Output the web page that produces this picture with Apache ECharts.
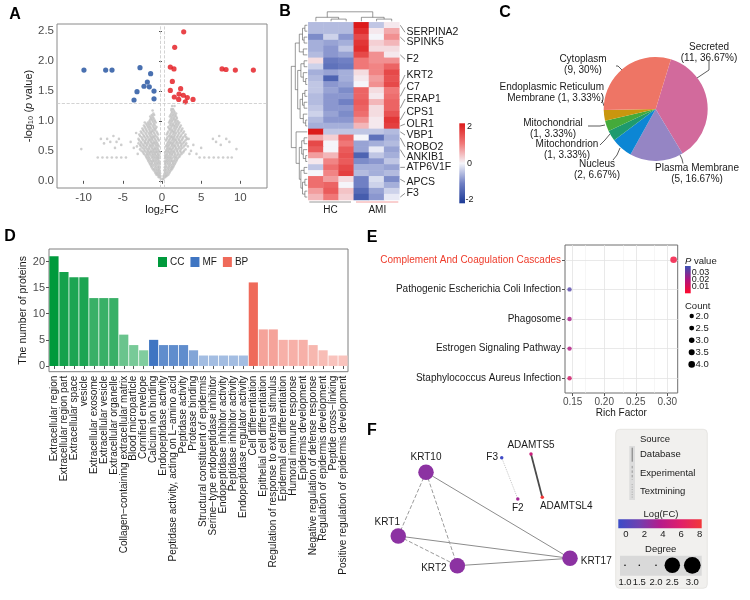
<!DOCTYPE html>
<html><head><meta charset="utf-8">
<script src="https://cdn.jsdelivr.net/npm/echarts@6/dist/echarts.min.js"></script>
<style>html,body{margin:0;padding:0;background:#fff}#c{width:750px;height:600px}</style>
</head><body><div id="c"></div>
<script>
// ================= DATA =================
// A: volcano
const volcanoUp = [[2.77,2.49],[1.62,2.23],[1.06,1.90],[1.53,1.87],[1.32,1.66],[1.06,1.51],[2.38,1.54],[1.57,1.40],[2.17,1.45],[2.72,1.43],[2.13,1.36],[2.98,1.32],[3.23,1.39],[3.96,1.36],[7.66,1.87],[8.17,1.86],[9.36,1.85],[11.66,1.85]];
const volcanoDown = [[-9.96,1.85],[-7.19,1.85],[-6.38,1.85],[-2.81,1.89],[-1.45,1.79],[-1.87,1.65],[-2.30,1.58],[-1.62,1.57],[-3.19,1.49],[-1.02,1.50],[-3.57,1.35],[-1.02,1.37]];
// non-significant proteins, listed per -log10(p) level: [y, [log2FC values]]
const volcanoNSRows = [
 [0.03,[-0.15,0.1,0.18]],
 [0.06,[-0.25,-0.4,0.25,0.4]],
 [0.08,[-0.2,-0.45,0.2,0.45,0.6]],
 [0.1,[-0.3,-0.5,-0.7,0.3,0.55,0.8]],
 [0.125,[-0.25,-0.45,-0.65,-0.8,0.35,0.6,0.9]],
 [0.15,[-0.35,-0.6,-0.9,0.4,0.7,1.0]],
 [0.175,[-0.3,-0.5,-0.75,-1.05,0.3,0.55,0.85,1.15]],
 [0.2,[-0.4,-0.7,-1.0,-1.2,0.45,0.8,1.1,1.3]],
 [0.225,[-0.35,-0.55,-0.85,-1.3,0.35,0.65,0.95,1.25,1.4]],
 [0.25,[-0.45,-0.8,-1.1,-1.4,0.5,0.9,1.2,1.5]],
 [0.275,[-0.3,-0.65,-0.95,-1.25,-1.5,0.4,0.75,1.05,1.35,1.6]],
 [0.3,[-0.4,-0.6,-0.9,-1.3,-1.6,0.45,0.7,1.0,1.4,1.7]],
 [0.325,[-0.35,-0.7,-1.0,-1.2,-1.4,-1.7,0.35,0.55,0.8,1.1,1.3,1.5,1.8]],
 [0.35,[-0.5,-0.8,-1.1,-1.5,-1.8,0.6,0.9,1.2,1.6,1.9]],
 [0.375,[-0.4,-0.6,-0.9,-1.2,-1.6,-1.9,0.4,0.7,1.0,1.3,1.7,2.0]],
 [0.39,[-8.2,-7.6,-7.0,-6.4,-5.8,-5.2,-4.6,4.8,5.4,6.0,6.6,7.2,7.8,8.4,8.9]],
 [0.4,[-0.45,-0.7,-1.0,-1.3,-1.7,-2.0,0.5,0.8,1.1,1.5,1.8,2.2]],
 [0.425,[-0.35,-0.6,-0.85,-1.15,-1.45,-1.8,-2.1,0.4,0.65,0.95,1.25,1.6,1.95,2.3]],
 [0.45,[-0.5,-0.9,-1.2,-1.6,-1.9,-2.3,-3.1,0.6,1.0,1.3,1.7,2.1,2.5,3.5,4.4]],
 [0.475,[-0.3,-0.6,-0.8,-1.0,-1.3,-1.5,-1.7,-2.0,-2.4,0.4,0.7,0.9,1.1,1.4,1.6,2.0,2.4,2.7]],
 [0.5,[-0.4,-0.7,-1.1,-1.4,-1.8,-2.2,-2.6,0.5,0.8,1.2,1.5,1.9,2.3,2.8,3.7]],
 [0.525,[-0.5,-0.8,-1.0,-1.2,-1.6,-1.9,-2.3,-2.8,0.6,0.9,1.1,1.3,1.7,2.0,2.4,3.0]],
 [0.53,[-10.3,9.5]],
 [0.55,[-0.6,-0.9,-1.3,-1.7,-2.1,-2.5,-3.6,-6.0,0.7,1.0,1.4,1.8,2.2,2.6,5.0]],
 [0.575,[-0.4,-0.7,-1.1,-1.4,-1.6,-2.0,-2.3,-2.7,-3.2,0.5,0.8,1.2,1.5,1.7,2.1,2.4,2.8,3.3]],
 [0.6,[-0.5,-0.8,-1.2,-1.5,-1.9,-2.4,-2.8,-5.2,0.6,0.9,1.3,1.6,2.0,2.5,3.0,4.0,7.5]],
 [0.625,[-0.6,-0.9,-1.1,-1.3,-1.7,-2.0,-2.2,-2.6,-3.0,-7.4,0.7,1.0,1.2,1.4,1.8,2.1,2.4,2.7,3.1]],
 [0.65,[-0.7,-1.0,-1.4,-1.8,-2.2,-2.7,-4.0,-6.6,-5.8,0.8,1.1,1.5,1.9,2.3,2.8,6.9,8.6]],
 [0.675,[-0.4,-0.8,-1.2,-1.5,-1.7,-2.1,-2.4,-2.9,0.5,0.9,1.3,1.6,1.8,2.2,2.5,3.0]],
 [0.7,[-0.5,-0.9,-1.3,-1.6,-2.0,-2.5,-3.0,-5.5,-7.0,-7.8,0.6,1.0,1.4,1.7,2.1,2.6,3.2,3.4,6.5,8.2]],
 [0.725,[-0.6,-1.0,-1.2,-1.4,-1.8,-2.2,-2.6,0.7,1.1,1.3,1.5,1.9,2.3,2.7,3.1]],
 [0.75,[-0.8,-1.1,-1.5,-1.9,-2.3,-2.8,-6.2,0.9,1.2,1.6,2.0,2.4,2.9,7.3]],
 [0.775,[-0.5,-0.9,-1.3,-1.6,-2.0,-2.4,-2.9,0.6,1.0,1.4,1.7,2.1,2.5,3.0]],
 [0.8,[-0.6,-1.0,-1.4,-1.7,-2.1,-2.6,-3.3,0.7,1.1,1.5,1.8,2.2,2.7]],
 [0.825,[-0.7,-1.1,-1.3,-1.5,-1.9,-2.3,-2.7,0.8,1.2,1.4,1.6,2.0,2.4,2.8]],
 [0.85,[-0.9,-1.2,-1.6,-2.0,-2.4,1.0,1.3,1.7,2.1,2.5]],
 [0.875,[-0.8,-1.0,-1.4,-1.7,-2.1,-2.5,0.9,1.1,1.5,1.8,2.2,2.6]],
 [0.9,[-0.7,-1.1,-1.5,-1.8,-2.2,0.8,1.2,1.6,1.9,2.3]],
 [0.925,[-0.9,-1.2,-1.6,-1.9,-2.3,1.0,1.3,1.5,1.7,2.0,2.4]],
 [0.95,[-1.0,-1.4,-1.7,-2.0,1.1,1.4,1.8,2.1]],
 [0.975,[-0.8,-1.1,-1.5,-1.8,-2.2,0.9,1.2,1.6,1.9,2.2]],
 [1.0,[-0.9,-1.2,-1.6,1.0,1.3,1.7,2.0]],
 [1.025,[-1.0,-1.3,-1.5,1.1,1.4,1.6,1.8]],
 [1.05,[-1.1,-1.4,1.2,1.5,1.9]],
 [1.075,[-1.2,-1.5,1.0,1.3,1.6,1.8]],
 [1.1,[-1.0,-1.3,1.1,1.4,1.7]],
 [1.125,[-1.1,1.2,1.5,1.8]],
 [1.15,[1.3,1.6]],
 [1.175,[-1.2,1.2,1.5]],
 [1.2,[1.2,1.4]],
 [1.25,[1.3,1.6]]
];
const volcanoXTicks = [-10,-5,0,5,10];
const volcanoYTicks = [0,0.5,1,1.5,2,2.5];
const pCutoff = 1.3, fcCutoff = 0.26;

// B: heatmap (rows = proteins, cols = samples), z-scores
const hmSamples = ['HC1','HC2','HC3','AMI1','AMI2','AMI3'];
const hmGroups = ['HC','AMI'];
const hmValues = [
 [-0.5,-0.5,-0.5, 2.0,-0.4, 0.1],
 [-0.5,-0.5,-0.5, 1.8, 0.1, 0.6],
 [-0.9,-0.3,-0.8, 1.5, 0.0, 0.8],
 [-0.6,-0.7,-0.6, 1.7, 0.3, 0.5],
 [-0.6,-0.8,-0.4, 1.8, 0.2, 0.2],
 [-0.5,-0.8,-0.7, 1.5, 0.8, 0.1],
 [ 0.2,-1.1,-1.0, 1.0, 0.8, 0.8],
 [-0.3,-1.2,-1.1, 1.0, 0.9, 1.2],
 [-0.6,-0.7,-0.6, 0.2, 0.9, 1.5],
 [-0.5,-1.4,-0.6, 0.1, 0.7, 1.4],
 [-0.4,-0.8,-0.7, 0.0, 0.8, 1.5],
 [-0.4,-0.7,-0.9, 1.2, 0.2, 1.0],
 [-0.5,-0.8,-0.8, 1.2, 0.1, 1.1],
 [-0.5,-0.8,-1.0, 1.3, 0.5, 1.2],
 [-0.4,-0.8,-0.8, 1.2, 0.2, 1.2],
 [-0.3,-0.7,-0.9, 1.1, 0.2, 1.4],
 [-0.5,-0.8,-0.8, 0.8, 0.1, 1.7],
 [-0.6,-0.6,-0.6, 0.5, 0.1, 1.6],
 [ 2.0,-0.4,-0.4,-0.4,-0.4,-0.5],
 [ 0.6, 0.3, 1.2, 0.0,-1.2,-0.6],
 [ 1.5, 0.0, 1.0,-0.7,-0.6,-0.5],
 [ 1.3, 0.0, 1.3,-0.7,-0.1,-0.7],
 [ 0.7, 0.5, 1.4,-1.4,-0.4,-0.6],
 [ 0.1, 0.9, 1.3,-0.9,-0.8,-0.4],
 [-0.4, 1.1, 1.5,-0.6,-0.6,-0.7],
 [ 0.0, 0.9, 1.6,-0.5,-0.6,-0.5],
 [ 1.1, 0.7, 0.2,-1.0,-0.2,-0.9],
 [ 1.1, 1.2, 0.0,-1.0,-0.3,-0.6],
 [ 0.7, 1.3, 0.4,-1.3,-0.7,-0.3],
 [ 0.5, 1.0, 0.3,-1.5,-0.8,-0.1]
];
const hmLabels = ['SERPINA2','SPINK5','F2','KRT2','C7','ERAP1','CPS1','OLR1','VBP1','ROBO2','ANKIB1','ATP6V1F','APCS','F3'];
const hmLabelRows = [0,2,5,10,12,14,16,17,18,19,21,24,26,29];
const hmScaleTicks = [2,0,-2];
// dendrograms: [height, left, right]; leaves = row / column index
const hmRowTree = [1.0,
  [0.75,
    [0.5,[0.3,[0.15,0,1],[0.2,2,3]],[0.25,4,5]],
    [0.6,[0.4,[0.2,6,7],[0.25,8,[0.1,9,10]]],[0.45,[0.3,[0.15,11,12],[0.2,13,14]],[0.25,15,[0.1,16,17]]]]],
  [0.7,18,[0.5,[0.35,[0.2,19,20],[0.25,21,[0.1,22,23]]],[0.4,[0.2,24,25],[0.3,[0.15,26,27],[0.15,28,29]]]]]];
const hmColTree = [0.95,[0.4,0,[0.22,1,2]],[0.4,3,[0.22,4,5]]];

// C: subcellular location
const locNames = ['Secreted','Plasma Membrane','Nucleus','Mitochondrion','Mitochondrial','Endoplasmic Reticulum Membrane','Cytoplasm'];
const locCounts = [11,5,2,1,1,1,9];

// D: GO terms
const goTerms = ['Extracellular region','Extracellular region part','Extracellular space','vesicle','Extracellular exosome','Extracellular vesicle','Extracellular organelle','Collagen\u2212containing extracellular matrix','Blood microparticle','Cornified envelope',
 'Calcium ion binding','Endopeptidase activity','Peptidase activity, acting on L\u2212amino acid','Peptidase activity','Protease binding','Structural constituent of epidermis','Serine\u2212type endopeptidase inhibitor','Endopeptidase inhibitor activity','Peptidase inhibitor activity','Endopeptidase regulator activity',
 'Cell differentiation','Epithelial cell differentiation','Regulation of response to external stimulus','Epidermal cell differentiation','Humoral immune response','Epidermis development','Negative regulation of defense response','Regulation of epidermis development','Peptide cross\u2212linking','Positive regulation of epidermis development'];
const goCounts = [21,18,17,17,13,13,13,6,4,3, 5,4,4,4,3,2,2,2,2,2, 16,7,7,5,5,5,4,3,2,2];
const goGroups = ['CC','CC','CC','CC','CC','CC','CC','CC','CC','CC','MF','MF','MF','MF','MF','MF','MF','MF','MF','MF','BP','BP','BP','BP','BP','BP','BP','BP','BP','BP'];
const goGroupNames = ['CC','MF','BP'];
const goYTicks = [0,5,10,15,20];

// E: KEGG enrichment
const keggTerms = ['Complement And Coagulation Cascades','Pathogenic Escherichia Coli Infection','Phagosome','Estrogen Signaling Pathway','Staphylococcus Aureus Infection'];
const keggRich = [0.31,0.145,0.145,0.145,0.145];
const keggP = [0.004,0.035,0.022,0.020,0.013];
const keggCount = [4,2,2,2,2];
const keggXTicks = [0.15,0.20,0.25,0.30];
const keggMinorX = [0.175,0.225,0.275];
const pLegendTicks = [0.03,0.02,0.01];
const countLegend = [2.0,2.5,3.0,3.5,4.0];

// F: PPI network
const netNodes = ['KRT10','KRT1','KRT2','KRT17','F3','F2','ADAMTS5','ADAMTSL4'];
const netLayoutX = [21.25,9.7,34.3,81.25,52.8,59.5,65.0,69.7];
const netLayoutY = [26.4,66.25,84.8,80.2,17.3,43.1,15.0,42.1];
const netLogFC = [2.8,2.8,2.8,2.8,0.2,3.5,5.0,8.0];
const netDegree = [3,3,3,3,1,1,1,1];
const netEdges = [['KRT10','KRT17','Database',1],['KRT1','KRT17','Database',1],['KRT2','KRT17','Database',1],
 ['KRT10','KRT1','Experimental',1],['KRT10','KRT2','Experimental',1],['KRT1','KRT2','Experimental',1],
 ['F3','F2','Textmining',1],['ADAMTS5','ADAMTSL4','Database',2]];
const sourceTypes = ['Database','Experimental','Textmining'];
const fcTicks = [0,2,4,6,8];
const degreeTicks = [1.0,1.5,2.0,2.5,3.0];

// ================= STYLE / LAYOUT =================
const FF = 'Liberation Sans, Arial, Helvetica, sans-serif';
const GA = {left:57, top:24, width:210, height:164};
const GB = {left:308.3, top:22.3, width:91, height:177.7};
const GD = {left:49, top:249, width:299, height:122.7};
const GE = {left:565, top:245, width:112.7, height:148};
const GF = {left:375, top:430, width:240, height:160};
const rowH = GB.height / hmValues.length, colW = GB.width / hmSamples.length;

function hex2rgb(h){return [parseInt(h.slice(1,3),16),parseInt(h.slice(3,5),16),parseInt(h.slice(5,7),16)];}
function mixWhite(h,a){const c=hex2rgb(h);return 'rgb('+c.map(v=>Math.round(255-(255-v)*a)).join(',')+')';}
function rampColor(stops, t){
  if(t<=stops[0][0]) return stops[0][1];
  for(let i=1;i<stops.length;i++){
    if(t<=stops[i][0]){const f=(t-stops[i-1][0])/(stops[i][0]-stops[i-1][0]);
      const a=hex2rgb(stops[i-1][1]), b=hex2rgb(stops[i][1]);
      return 'rgb('+a.map((v,k)=>Math.round(v+(b[k]-v)*f)).join(',')+')';}
  }
  return stops[stops.length-1][1];
}
const fcStops = [[0,'#3b4cc8'],[2,'#7040b0'],[4,'#b51c8c'],[6,'#e0206a'],[8,'#f2383a']];
const heatColors = ['#1c3a96','#7080c4','#f5f5fa','#f07777','#dc1a1a'];
const pColors = ['#ff0a2c','#b0147e','#3a50b4'];
const pMin = 0.001, pMax = 0.039;
const groupBase = {CC:'#009a3c', MF:'#3f75c2', BP:'#ef6a5a'};
const groupMinAlpha = {CC:0.5, MF:0.48, BP:0.4};
const countSize = c => 2.2 + 1.1*c;
const degreeSize = d => d >= 2.5 ? 15.5 : 3.5;

// ================= GRAPHIC (annotations / legends) =================
const G = [];
function T(text,x,y,o){G.push({type:'text',x:x,y:y,silent:true,z:10,style:Object.assign({text:text,fontSize:10,fontFamily:FF,fill:'#1a1a1a',align:'left',textAlign:'left',verticalAlign:'middle',textVerticalAlign:'middle'},o||{})});}
function L(pts,o){G.push({type:'polyline',silent:true,z:10,shape:{points:pts},style:Object.assign({stroke:'#333',lineWidth:0.8,fill:null},o||{})});}
function R(x,y,w,h,o,r){G.push({type:'rect',silent:true,z:9,shape:{x:x,y:y,width:w,height:h,r:r||0},style:o});}
function C(cx,cy,r,fill){G.push({type:'circle',silent:true,z:10,shape:{cx:cx,cy:cy,r:r},style:{fill:fill}});}

[['A',15,15],['B',285,12],['C',505,13],['D',10,237],['E',372,238],['F',372,431]].forEach(p=>T(p[0],p[1],p[2],{fontSize:16,fontWeight:'bold',fill:'#000',align:'center',textAlign:'center'}));

function dendro(tree, leafPos, hCoord, horizontal){
  function walk(n){
    if(typeof n==='number') return {p:leafPos(n), c:hCoord(0)};
    const l=walk(n[1]), r=walk(n[2]), c=hCoord(n[0]);
    const pts = horizontal ? [[l.c,l.p],[c,l.p],[c,r.p],[r.c,r.p]] : [[l.p,l.c],[l.p,c],[r.p,c],[r.p,r.c]];
    L(pts,{stroke:'#555',lineWidth:0.6});
    return {p:(l.p+r.p)/2, c:c};
  }
  walk(tree);
}
dendro(hmRowTree, i=>GB.top+(i+0.5)*rowH, h=>GB.left-1-h*16, true);
dendro(hmColTree, j=>GB.left+(j+0.5)*colW, h=>GB.top-1-h*10, false);
const hmLabelY = [32.3,41.7,59.3,75,87.3,99,111.7,124,135,146.7,157.3,167.3,182,193.3];
hmLabels.forEach((t,i)=>{
  L([[GB.left+GB.width+1, GB.top+(hmLabelRows[i]+0.5)*rowH],[405, hmLabelY[i]]],{stroke:'#444',lineWidth:0.6});
  T(t,406.5,hmLabelY[i],{fontSize:10.5});
});
L([[309.3,202],[351,202]],{stroke:'#999',lineWidth:1});
L([[356,202],[398.3,202]],{stroke:'#f4a0a0',lineWidth:1});
T(hmGroups[0],330.5,210.5,{align:'center',textAlign:'center',fontSize:10});
T(hmGroups[1],377.3,210.5,{align:'center',textAlign:'center',fontSize:10});
R(459.3,123.3,5.7,80,{fill:new echarts.graphic.LinearGradient(0,0,0,1,[{offset:0,color:heatColors[4]},{offset:0.25,color:heatColors[3]},{offset:0.5,color:heatColors[2]},{offset:0.75,color:heatColors[1]},{offset:1,color:heatColors[0]}])});
hmScaleTicks.forEach(v=>T(String(v), v<0?465.5:467, 163.3-v*18.3,{fontSize:9}));

T('{i|P} value',685,261,{fontSize:9.5,rich:{i:{fontStyle:'italic',fontSize:9.5,fontFamily:FF}}});
const pbTop=266, pbH=27.3;
R(685,pbTop,5.7,pbH,{fill:new echarts.graphic.LinearGradient(0,0,0,1,[{offset:0,color:pColors[2]},{offset:0.5,color:pColors[1]},{offset:1,color:pColors[0]}])});
pLegendTicks.forEach(p=>T(p.toFixed(2),691.7,pbTop+(pMax-p)/(pMax-pMin)*pbH,{fontSize:9,lineHeight:9}));
T('Count',685,306.7,{fontSize:9.5});
countLegend.forEach((c,i)=>{const y=316+12.1*i; C(691.7,y,countSize(c)/2,'#000'); T(c.toFixed(1),695.5,y,{fontSize:9.5});});

R(615.7,429.3,91.6,159,{fill:'#f1f0ee',stroke:'#e2e1de',lineWidth:0.8},4);
T('Source',640,439.7,{fontSize:9.5});
R(629.3,446,5.7,54,{fill:'#dcdcdc'});
const srcDash = {Database:null, Experimental:[2.5,2], Textmining:[1,1.5]};
const srcCol = {Database:'#777', Experimental:'#999', Textmining:'#aaa'};
sourceTypes.forEach((s,i)=>{const y=454.7+18.2*i; L([[632.2,y-7],[632.2,y+7]],{stroke:srcCol[s],lineWidth:1,lineDash:srcDash[s]}); T(s,640,y,{fontSize:9.5});});
T('Log(FC)',661,514.3,{fontSize:9.5,align:'center',textAlign:'center'});
R(618.3,519.3,83.4,9,{fill:new echarts.graphic.LinearGradient(0,0,1,0,fcStops.map(s=>({offset:s[0]/8,color:s[1]})))});
fcTicks.forEach(v=>T(String(v),626+v*9.2,534,{fontSize:9.5,align:'center',textAlign:'center'}));
T('Degree',660.7,549.3,{fontSize:9.5,align:'center',textAlign:'center'});
R(620,555.7,81.7,20,{fill:'#d9d9d9'});
const degX = [625,639.3,656,672.3,692.3];
degreeTicks.forEach((d,i)=>{C(degX[i],565.3,degreeSize(d)/2*(d>=2.5?(d>=3?1.08:1):0.45),'#000'); T(d.toFixed(1),degX[i],582.7,{fontSize:9.5,align:'center',textAlign:'center'});});

// ================= SERIES =================
const nsPoints = [];
volcanoNSRows.forEach(r=>r[1].forEach(x=>nsPoints.push([x,r[0]])));
const total = locCounts.reduce((a,b)=>a+b,0);
const pieColors = ['#d26a9c','#9585c4','#0c86d4','#1e9a6e','#45aa3a','#c9960e','#ee7565'];
const pieLabelPos = [
 {x:709,y:52.5,align:'center',line:[[697,78],[709,70],[709,61]]},
 {x:697,y:173.5,align:'center',line:[[680,155],[682,159],[683,163.5]]},
 {x:597,y:169.5,align:'center',line:[[620,148],[617,155],[613,160]]},
 {x:567,y:149.5,align:'center',line:[[610,134],[605,140],[600,145]]},
 {x:553,y:128.5,align:'center',line:[[605,125],[600,126],[588,126]]},
 {x:604,y:92.5,align:'right',line:[[604,106],[603,103],[602,100]]},
 {x:583,y:64.5,align:'center',line:[[622,70],[618,66],[616,66]]}
];
function goColor(i){
  const g=goGroups[i]; const vals=goCounts.filter((v,k)=>goGroups[k]===g);
  const mn=Math.min.apply(null,vals), mx=Math.max.apply(null,vals);
  const a=groupMinAlpha[g]+(1-groupMinAlpha[g])*(goCounts[i]-mn)/(mx-mn);
  return mixWhite(groupBase[g],a);
}
const edgeStyle = {Database:{color:'#8c8c8c',type:'solid'},Experimental:{color:'#9a9a9a',type:'dashed'},Textmining:{color:'#c4c4c4',type:'dotted'}};
const nodeLabel = {
 KRT10:{position:'top',distance:2}, KRT1:{position:'top',distance:1,offset:[-11,0]}, KRT2:{position:'left',distance:3,offset:[0,3]},
 KRT17:{position:'right',distance:3,offset:[0,3]}, F3:{position:'left',distance:2}, F2:{position:'bottom',distance:3},
 ADAMTS5:{position:'top',distance:2}, ADAMTSL4:{position:'bottom',distance:2,offset:[24,0]}
};
const noSplit = {show:false};
const keggData = keggTerms.map((t,i)=>[keggRich[i],t,keggP[i],keggCount[i]]);
const majorGrid = {color:'#e3e3e3',width:0.8,type:'solid'};
const minorGrid = {color:'#f0f0f0',width:0.6,type:'solid'};

const option = {
  animation:false,
  textStyle:{fontFamily:FF},
  grid:[
    Object.assign({show:true,borderColor:'#8a8a8a',borderWidth:1},GA),
    Object.assign({show:false},GB),
    Object.assign({show:true,borderColor:'#7f7f7f',borderWidth:1},GD),
    Object.assign({show:true,borderColor:'#6f6f6f',borderWidth:1},GE),
    Object.assign({show:false},GF)
  ],
  xAxis:[
    {gridIndex:0,type:'value',min:-13.4,max:13.4,splitLine:noSplit,axisLine:{show:false},
     axisTick:{show:true,length:3,lineStyle:{color:'#555'},customValues:volcanoXTicks},
     axisLabel:{customValues:volcanoXTicks,fontSize:11.5,color:'#4d4d4d',margin:4},
     name:'log\u2082FC',nameLocation:'middle',nameGap:16,nameTextStyle:{fontSize:11,color:'#1a1a1a'}},
    {gridIndex:1,type:'category',data:hmSamples,show:false},
    {gridIndex:2,type:'category',data:goTerms,axisLine:{show:false},axisTick:{show:true,length:3,alignWithLabel:true,lineStyle:{color:'#555'}},
     axisLabel:{interval:0,rotate:90,fontSize:10,color:'#1a1a1a',margin:4}},
    {gridIndex:3,type:'value',min:0.1378,max:0.3165,splitLine:noSplit,axisLine:{show:false},
     axisTick:{show:true,length:3,lineStyle:{color:'#555'},customValues:keggXTicks},
     axisLabel:{customValues:keggXTicks,formatter:v=>v.toFixed(2),fontSize:10,color:'#4d4d4d',margin:4},
     name:'Rich Factor',nameLocation:'middle',nameGap:14,nameTextStyle:{fontSize:10,color:'#1a1a1a'}},
    {gridIndex:4,type:'value',min:0,max:100,show:false}
  ],
  yAxis:[
    {gridIndex:0,type:'value',min:-0.12,max:2.62,splitLine:noSplit,axisLine:{show:false},
     axisTick:{show:true,length:3,lineStyle:{color:'#555'},customValues:volcanoYTicks},
     axisLabel:{customValues:volcanoYTicks,formatter:v=>v.toFixed(1),fontSize:11.5,color:'#4d4d4d',margin:3},
     name:'-log\u2081\u2080 ({i|p} value)',nameLocation:'middle',nameGap:20,
     nameTextStyle:{fontSize:11,color:'#1a1a1a',rich:{i:{fontStyle:'italic',fontSize:11,fontFamily:FF}}}},
    {gridIndex:1,type:'category',data:hmValues.map((r,i)=>'r'+i),inverse:true,show:false},
    {gridIndex:2,type:'value',min:-1.1,max:22.4,splitLine:noSplit,axisLine:{show:false},
     axisTick:{show:true,length:3,lineStyle:{color:'#555'},customValues:goYTicks},
     axisLabel:{customValues:goYTicks,fontSize:11,color:'#4d4d4d',margin:4},
     name:'The number of proteins',nameLocation:'middle',nameGap:19,nameTextStyle:{fontSize:10.5,color:'#1a1a1a'}},
    {gridIndex:3,type:'category',data:keggTerms,inverse:true,axisLine:{show:false},splitLine:noSplit,
     axisTick:{show:true,length:3,alignWithLabel:true,lineStyle:{color:'#555'}},
     axisLabel:{fontSize:10,color:'#1a1a1a',margin:4,formatter:(v,i)=>i===0?'{r|'+v+'}':v,rich:{r:{color:'#ee3b2a',fontSize:10,fontFamily:FF}}}},
    {gridIndex:4,type:'value',min:0,max:100,inverse:true,show:false}
  ],
  legend:{data:goGroupNames,left:153,top:252,itemWidth:9,itemHeight:10,itemGap:6,icon:'rect',textStyle:{fontSize:10,color:'#1a1a1a',padding:[0,0,0,-2]}},
  visualMap:[
    {type:'continuous',seriesIndex:3,min:-2,max:2,show:false,inRange:{color:heatColors}},
    {type:'continuous',seriesIndex:8,dimension:2,min:pMin,max:pMax,show:false,inRange:{color:pColors}}
  ],
  series:[
    {type:'scatter',xAxisIndex:0,yAxisIndex:0,data:nsPoints,symbolSize:2.6,itemStyle:{color:'#c2c2c2'},silent:true,z:2,
     markLine:{silent:true,symbol:['none','none'],label:{show:false},lineStyle:{color:'#c8c8c8',type:'dashed',width:0.8},
       data:[{yAxis:pCutoff},{xAxis:-fcCutoff},{xAxis:fcCutoff}]}},
    {type:'scatter',xAxisIndex:0,yAxisIndex:0,data:volcanoDown,symbolSize:5.2,itemStyle:{color:'#1b4c9c'},z:3},
    {type:'scatter',xAxisIndex:0,yAxisIndex:0,data:volcanoUp,symbolSize:5.2,itemStyle:{color:'#e3151c'},z:3},
    {type:'heatmap',xAxisIndex:1,yAxisIndex:1,data:hmValues.flatMap((r,i)=>r.map((v,j)=>[j,i,v])),emphasis:{disabled:true},silent:true},
    {type:'pie',center:[655.7,109],radius:52,startAngle:73,clockwise:true,avoidLabelOverlap:false,silent:true,
     data:locNames.map((n,i)=>({name:n,value:locCounts[i],itemStyle:{color:pieColors[i]}})),
     label:{show:true,fontSize:10,color:'#1a1a1a',lineHeight:10.5,
       formatter:p=>{const pct=parseFloat((p.value/total*100).toFixed(2))+'%';const n=p.name;
         if(n.length>20){const k=n.lastIndexOf(' ');return n.slice(0,k)+'\n'+n.slice(k+1)+' ('+p.value+', '+pct+')';}
         return n+'\n('+p.value+', '+pct+')';}},
     labelLine:{show:true,length:5,length2:5,lineStyle:{color:'#333',width:0.8}},
     labelLayout:p=>{const L0=pieLabelPos[p.dataIndex];return {x:L0.x,y:L0.y,align:L0.align,verticalAlign:'middle',labelLinePoints:L0.line};}},
    ...goGroupNames.map(g=>({type:'bar',name:g,xAxisIndex:2,yAxisIndex:2,barGap:'-100%',barCategoryGap:'8%',
      itemStyle:{color:groupBase[g]},silent:true,
      data:goCounts.map((v,i)=>goGroups[i]===g?{value:v,itemStyle:{color:goColor(i)}}:'-')})),
    {type:'scatter',xAxisIndex:3,yAxisIndex:3,z:6,zlevel:0,data:keggData,symbolSize:v=>countSize(v[3])},
    // panel-E background grid (carrier series is invisible; only its markLines show)
    {type:'line',xAxisIndex:3,yAxisIndex:3,z:1,silent:true,data:keggData,showSymbol:false,symbol:'none',
     lineStyle:{opacity:0,width:0},
     markLine:{silent:true,z:1,symbol:['none','none'],label:{show:false},
       data:keggXTicks.map(v=>({xAxis:v,lineStyle:majorGrid}))
         .concat(keggMinorX.map(v=>({xAxis:v,lineStyle:minorGrid})))
         .concat(keggTerms.map(t=>({yAxis:t,lineStyle:majorGrid})))}},
    {type:'graph',coordinateSystem:'cartesian2d',xAxisIndex:4,yAxisIndex:4,silent:true,z:3,
     data:netNodes.map((n,i)=>({name:n,value:[netLayoutX[i],netLayoutY[i]],symbolSize:degreeSize(netDegree[i]),
       itemStyle:{color:rampColor(fcStops,netLogFC[i])},label:Object.assign({show:true,fontSize:10,color:'#1a1a1a'},nodeLabel[n])})),
     links:netEdges.map(e=>({source:e[0],target:e[1],lineStyle:e[3]>1?{color:'#4a4a4a',width:1.8,type:'solid'}:Object.assign({width:1},edgeStyle[e[2]])})),
     lineStyle:{opacity:1,curveness:0}}
  ],
  graphic:{elements:G}
};
const chart = echarts.init(document.getElementById('c'));
chart.setOption(option);
</script></body></html>
